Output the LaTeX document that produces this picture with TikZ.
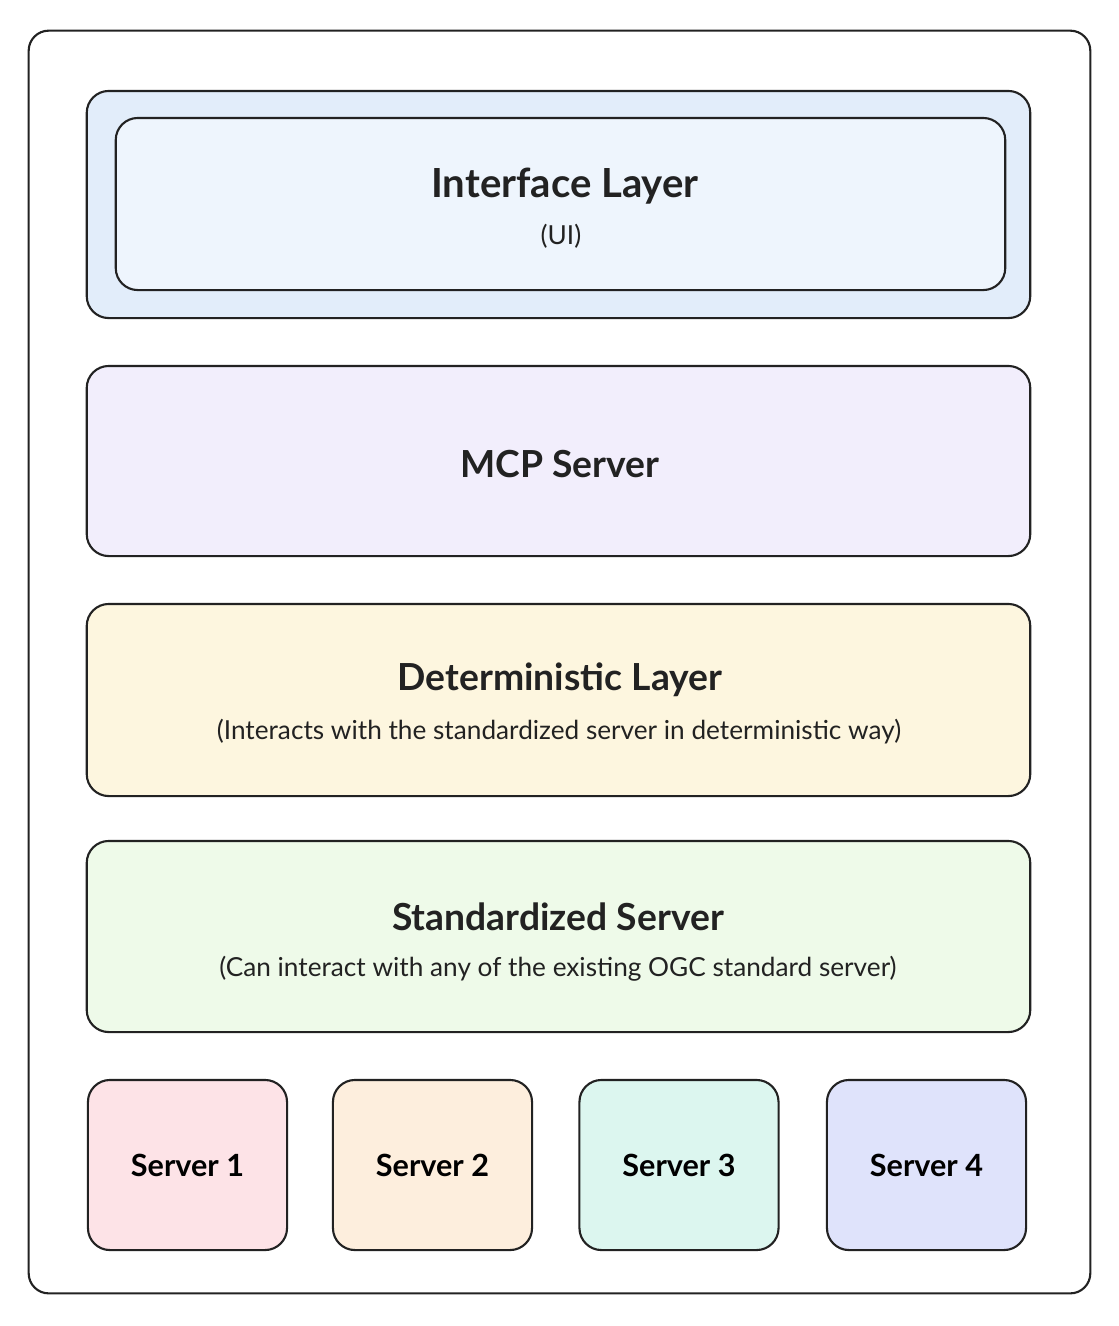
\documentclass[tikz,border=0pt]{standalone}
\usepackage{fontspec}
\setmainfont{Lato}
\definecolor{edge}{HTML}{222222}
\definecolor{uiouter}{HTML}{E2EDFA}
\definecolor{uiinner}{HTML}{EEF5FD}
\definecolor{mcpfill}{HTML}{F2EEFC}
\definecolor{detfill}{HTML}{FDF6DF}
\definecolor{stdfill}{HTML}{EEFAE9}
\definecolor{srvone}{HTML}{FDE3E7}
\definecolor{srvtwo}{HTML}{FDEEDD}
\definecolor{srvthree}{HTML}{DCF6EF}
\definecolor{srvfour}{HTML}{DFE3FB}
\tikzset{
  layerbox/.style={draw=edge, line width=0.6pt, rounded corners=2.2mm, minimum width=9.43cm, minimum height=1.9cm, inner sep=0pt},
  serverbox/.style={draw=edge, line width=0.6pt, rounded corners=2.2mm, minimum width=1.99cm, minimum height=1.7cm, inner sep=0pt,
    font=\fontsize{8.7}{11}\selectfont\bfseries},
  titletext/.style={font=\fontsize{10.6}{12}\selectfont\bfseries, text=edge},
  subtext/.style={font=\fontsize{7.45}{9}\selectfont, text=edge}
}
\begin{document}
\begin{tikzpicture}[x=0.01cm, y=-0.01cm]
    % Frame
    \useasboundingbox (0,0) rectangle (1119,1326);
    \node[draw=edge, line width=0.6pt, rounded corners=2mm, minimum width=10.61cm, minimum height=12.62cm] (frame) at (559.5,662) {};
    % Interface layer
    \node[layerbox, fill=uiouter, minimum height=2.27cm] (uiout) at (558.5,204.5) {};
    \node[layerbox, fill=uiinner, minimum width=8.89cm, minimum height=1.72cm] (uiin) at (560.5,204) {};
    \node[titletext, font=\fontsize{11.4}{13}\selectfont\bfseries] (uititle) at (565,186) {Interface Layer};
    \node[subtext] (uisub) at (561,236) {(UI)};
    % MCP server
    \node[layerbox, fill=mcpfill] (mcp) at (558.5,461) {};
    \node[titletext] (mcptitle) at (560,464) {MCP Server};
    % Deterministic layer
    \node[layerbox, fill=detfill, minimum height=1.92cm] (det) at (558.5,700) {};
    \node[titletext] (dettitle) at (560,680) {Deterministic Layer};
    \node[subtext] (detsub) at (559,732) {(Interacts with the standardized server in deterministic way)};
    % Standardized server
    \node[layerbox, fill=stdfill, minimum height=1.91cm] (std) at (558.5,936.5) {};
    \node[titletext] (stdtitle) at (558,917) {Standardized Server};
    \node[subtext] (stdsub) at (558,969) {(Can interact with any of the existing OGC standard server)};
    % Servers
    \node[serverbox, fill=srvone] (srv1) at (187.5,1165) {Server 1};
    \node[serverbox, fill=srvtwo] (srv2) at (432.5,1165) {Server 2};
    \node[serverbox, fill=srvthree] (srv3) at (679,1165) {Server 3};
    \node[serverbox, fill=srvfour] (srv4) at (926.5,1165) {Server 4};
\end{tikzpicture}
\end{document}
